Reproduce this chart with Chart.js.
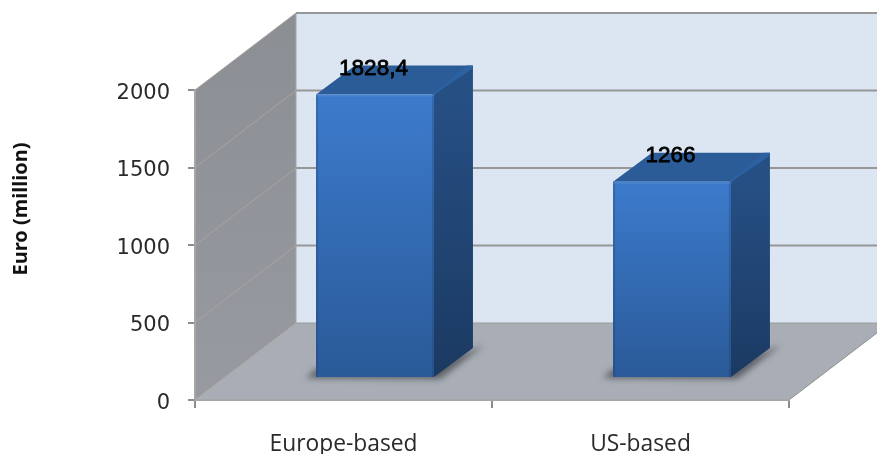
<!DOCTYPE html>
<html>
<head>
<meta charset="utf-8">
<title>Euro (million)</title>
<script src="https://cdn.jsdelivr.net/npm/chart.js@4/dist/chart.umd.min.js"></script>
<style>
	body { margin: 0; background: #fff; }
	canvas { display: block; }
</style>
</head>
<body>
<canvas id="chart" width="877" height="454"></canvas>
<script>
const categories = ["Europe-based", "US-based"];
const values = [1828.4, 1266];
const valueLabels = ["1828,4", "1266"];
const yTitle = "Euro (million)";
const yMax = 2000;
const yStep = 500;

// fake 3d: how far back the wall sits, where the bars stand on the floor, bar depth
const wall = { dx: 101, dy: -77 };
const barShift = { dx: 31.5, dy: -22 };
const barDepth = { dx: 39, dy: -29 };

function poly(ctx, pts, fill) {
	ctx.beginPath();
	pts.forEach((p, i) => (i ? ctx.lineTo(p[0], p[1]) : ctx.moveTo(p[0], p[1])));
	ctx.closePath();
	ctx.fillStyle = fill;
	ctx.fill();
}

function vGrad(ctx, y0, y1, c0, c1) {
	const g = ctx.createLinearGradient(0, y0, 0, y1);
	g.addColorStop(0, c0);
	g.addColorStop(1, c1);
	return g;
}

function line(ctx, x0, y0, x1, y1, color, width) {
	ctx.beginPath();
	ctx.moveTo(x0, y0);
	ctx.lineTo(x1, y1);
	ctx.strokeStyle = color;
	ctx.lineWidth = width;
	ctx.stroke();
}

function yTicks() {
	const out = [];
	for (let v = 0; v <= yMax; v += yStep) out.push(v);
	return out;
}

const box3d = {
	id: "box3d",
	// walls and floor go under the axes
	beforeDraw(chart) {
		const { ctx, scales } = chart;
		const y = scales.y, x = scales.x;
		const l = x.left, r = x.right, b = y.getPixelForValue(0), t = y.getPixelForValue(yMax);
		const bl = l + wall.dx, bb = b + wall.dy, bt = t + wall.dy, far = chart.width;
		const clipY = b + (wall.dy / wall.dx) * (far - r);

		ctx.save();
		ctx.fillStyle = "#fff";
		ctx.fillRect(0, 0, chart.width, chart.height);
		poly(ctx, [[bl, bt], [far, bt], [far, bb], [bl, bb]], "#dce6f2");
		poly(ctx, [[l, t], [bl, bt], [bl, bb], [l, b]], vGrad(ctx, bt, b, "#8b8e93", "#979aa0"));
		poly(ctx, [[l, b], [bl, bb], [far, bb], [far, clipY], [r, b]], "#a9aeb6");

		yTicks().forEach((v) => {
			const py = y.getPixelForValue(v);
			if (v > 0) {
				line(ctx, l, py, bl, py + wall.dy, "#aaa49e", 1);
				line(ctx, bl, py + wall.dy, far, py + wall.dy, "#979797", 2);
			}
		});
		line(ctx, l, b, bl, bb, "#aaa49e", 1);
		line(ctx, bl, bt, bl, bb, "#a6a6a6", 1);
		line(ctx, bl, bb, far, bb, "#9a9a9a", 1);
		line(ctx, r, b, far, clipY, "#8f8f8f", 1);
		ctx.restore();
	},
	// floor shadow plus top and side faces, behind the front faces
	beforeDatasetsDraw(chart) {
		const { ctx } = chart;
		ctx.save();
		chart.getDatasetMeta(0).data.forEach((bar) => {
			const left = bar.x - bar.width / 2 + barShift.dx;
			const right = bar.x + bar.width / 2 + barShift.dx;
			const top = bar.y + barShift.dy;
			const base = bar.base + barShift.dy;
			const dx = barDepth.dx, dy = barDepth.dy;

			ctx.save();
			ctx.filter = "blur(3px)";
			poly(ctx, [[left - 10, base + 1], [right + 6, base + 2], [right + dx + 11, base + dy - 3], [right, base - 12], [left, base - 8]], "rgba(45,45,50,0.62)");
			ctx.restore();

			poly(ctx, [[right, top], [right + dx, top + dy], [right + dx, base + dy], [right, base]], vGrad(ctx, top, base, "#264f84", "#1b3a62"));
			poly(ctx, [[left, top], [left + dx, top + dy], [right + dx, top + dy], [right, top]], "#2b5c97");
			poly(ctx, [[right - 2, top], [right + dx - 6, top + dy], [right + dx, top + dy], [right + dx, top + dy + 3], [right, top]], "#2c61a2");
		});
		ctx.restore();
		ctx.save();
		ctx.translate(barShift.dx, barShift.dy);
	},
	afterDatasetsDraw(chart) {
		const { ctx } = chart;
		ctx.restore();
		ctx.save();
		chart.getDatasetMeta(0).data.forEach((bar, i) => {
			const left = bar.x - bar.width / 2 + barShift.dx;
			const right = bar.x + bar.width / 2 + barShift.dx;
			const top = bar.y + barShift.dy;
			const base = bar.base + barShift.dy;
			// bevel on the front face
			ctx.fillStyle = "rgba(25,60,110,0.3)";
			ctx.fillRect(left, top, 2, base - top);
			ctx.fillRect(right - 2, top, 2, base - top);
			ctx.fillStyle = "rgba(120,165,225,0.25)";
			ctx.fillRect(left, top, right - left, 2);

			ctx.font = "22.5px 'Liberation Sans'";
			ctx.textAlign = "center";
			ctx.textBaseline = "middle";
			ctx.fillStyle = "#000";
			ctx.strokeStyle = "#000";
			ctx.lineWidth = 0.8;
			const lx = (left + right) / 2 - 1.5, ly = top - 26;
			ctx.fillText(valueLabels[i], lx, ly);
			ctx.strokeText(valueLabels[i], lx, ly);
		});

		// axis title sits above the middle of the axis
		ctx.translate(21, 209);
		ctx.rotate(-Math.PI / 2);
		ctx.font = "bold 20px 'Noto Sans'";
		ctx.textAlign = "center";
		ctx.textBaseline = "middle";
		ctx.fillStyle = "#111";
		ctx.fillText(yTitle, 0, 0);
		ctx.restore();
	},
};

new Chart(document.getElementById("chart").getContext("2d"), {
	type: "bar",
	data: {
		labels: categories,
		datasets: [
			{
				label: yTitle,
				data: values,
				clip: false,
				barPercentage: 0.397,
				categoryPercentage: 1,
				backgroundColor(c) {
					const y = c.chart.scales.y;
					if (!y || c.raw === undefined) return "#3366aa";
					const top = y.getPixelForValue(c.raw), bottom = y.getPixelForValue(0);
					if (!isFinite(top) || !isFinite(bottom)) return "#3366aa";
					return vGrad(c.chart.ctx, top, bottom, "#3c7bcc", "#2a5a98");
				},
			},
		],
	},
	options: {
		responsive: false,
		animation: false,
		layout: { padding: { top: 90, right: 88, left: 0, bottom: 0 } },
		plugins: { legend: { display: false }, tooltip: { enabled: false } },
		scales: {
			x: {
				afterFit(s) { s.height = 54; },
				border: { color: "#a6a6a6", width: 2 },
				grid: { drawOnChartArea: false, color: "#8c8c8c", lineWidth: 2, tickLength: 8 },
				ticks: { color: "#2a2a2a", padding: 23, font: { family: "'Open Sans'", size: 22.8 } },
			},
			y: {
				min: 0,
				max: yMax,
				afterFit(s) { s.width = 195; },
				border: { color: "#a6a6a6", width: 2 },
				grid: { drawOnChartArea: false, color: "#8c8c8c", lineWidth: 2, tickLength: 7 },
				// blank first line nudges the number down a little, as in the original
				ticks: { stepSize: yStep, color: "#2a2a2a", padding: 18, font: { family: "'DejaVu Sans'", size: 21, lineHeight: "7px" }, callback: (v) => ["", String(v)] },
			},
		},
	},
	plugins: [box3d],
});
</script>
</body>
</html>
